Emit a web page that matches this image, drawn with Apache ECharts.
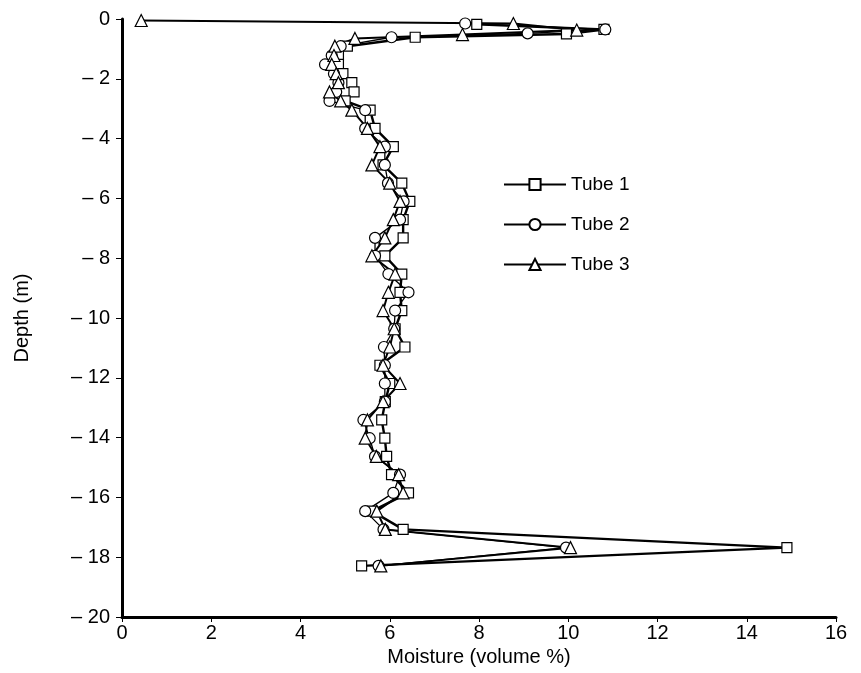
<!DOCTYPE html>
<html><head><meta charset="utf-8">
<script src="https://cdn.jsdelivr.net/npm/echarts@6/dist/echarts.min.js"></script>
<style>html,body{margin:0;padding:0;background:#fff}#c{width:861px;height:673px}</style>
</head><body><div id="c"></div>
<script>
// Depths (m) and moisture (volume %) for each tube
var tube1Depth = [-0.18,-0.35,-0.5,-0.61,-0.91,-1.22,-1.52,-1.83,-2.13,-2.44,-2.74,-3.05,-3.66,-4.27,-4.88,-5.49,-6.10,-6.71,-7.32,-7.92,-8.53,-9.14,-9.75,-10.36,-10.97,-11.58,-12.19,-12.80,-13.41,-14.02,-14.63,-15.24,-15.85,-16.46,-17.07,-17.68,-18.29];
var tube1Moist = [7.95,10.8,9.96,6.57,5.05,4.85,4.85,4.95,5.15,5.2,5.0,5.56,5.67,6.08,5.85,6.27,6.45,6.3,6.3,5.89,6.27,6.23,6.27,6.12,6.34,5.78,6.0,5.9,5.82,5.89,5.93,6.04,6.42,5.6,6.3,14.9,5.37];

var tube2Depth = [-0.15,-0.35,-0.48,-0.61,-0.91,-1.22,-1.52,-1.83,-2.13,-2.44,-2.74,-3.05,-3.66,-4.27,-4.88,-5.49,-6.10,-6.71,-7.32,-7.92,-8.53,-9.14,-9.75,-10.36,-10.97,-11.58,-12.19,-12.80,-13.41,-14.02,-14.63,-15.24,-15.85,-16.46,-17.07,-17.68,-18.29];
var tube2Moist = [7.69,10.83,9.09,6.04,4.9,4.7,4.55,4.75,4.85,4.8,4.65,5.45,5.45,5.89,5.89,5.96,6.31,6.23,5.67,5.67,5.97,6.42,6.12,6.1,5.87,5.89,5.89,5.89,5.41,5.55,5.67,6.23,6.08,5.45,5.86,9.95,5.75];

var tube3Depth = [-0.05,-0.15,-0.37,-0.52,-0.65,-0.91,-1.22,-1.52,-1.83,-2.13,-2.44,-2.74,-3.05,-3.66,-4.27,-4.88,-5.49,-6.10,-6.71,-7.32,-7.92,-8.53,-9.14,-9.75,-10.36,-10.97,-11.58,-12.19,-12.80,-13.41,-14.02,-14.63,-15.24,-15.85,-16.46,-17.07,-17.68,-18.29];
var tube3Moist = [0.43,8.77,10.19,7.63,5.22,4.77,4.75,4.7,4.8,4.85,4.65,4.9,5.15,5.5,5.78,5.6,6.0,6.23,6.08,5.89,5.6,6.12,5.97,5.85,6.1,6.0,5.85,6.23,5.85,5.5,5.45,5.7,6.2,6.3,5.71,5.9,10.05,5.8];

var seriesNames = ['Tube 1','Tube 2','Tube 3'];
var xTicks = [0,2,4,6,8,10,12,14,16];
var yTicks = [0,-2,-4,-6,-8,-10,-12,-14,-16,-18,-20];

function pairs(xs, ys){ return xs.map(function(x,i){ return [x, ys[i]]; }); }

var font = '"Liberation Sans", Arial, sans-serif';
var chart = echarts.init(document.getElementById('c'), null, {renderer:'canvas'});
function mk(name, data, symbol, size, width){
  return {
    name: name, type: 'line', data: data, symbol: symbol, symbolSize: size,
    showAllSymbol: true, z: 3,
    lineStyle: {color:'#000', width: width},
    itemStyle: {color:'#fff', borderColor:'#000', borderWidth: 1.2},
    emphasis: {disabled: true}, animation: false
  };
}
chart.setOption({
  animation: false,
  backgroundColor: '#fff',
  grid: {left: 122, right: 25, top: 19, bottom: 56, containLabel: false, outerBoundsMode: 'none'},
  legend: {
    orient: 'vertical', left: 498, top: 170, itemGap: 21,
    itemWidth: 62, itemHeight: 14,
    textStyle: {fontFamily: font, fontSize: 19, color: '#000'},
    data: seriesNames
  },
  xAxis: {
    type: 'value', min: xTicks[0], max: xTicks[xTicks.length-1], interval: 2,
    name: 'Moisture (volume %)', nameLocation: 'middle', nameGap: 30,
    nameTextStyle: {fontFamily: font, fontSize: 20, color: '#000'},
    axisLine: {onZero: false, lineStyle: {color: '#000', width: 3}},
    axisTick: {show: true, inside: false, length: 5, lineStyle: {color:'#000', width: 1}},
    axisLabel: {fontFamily: font, fontSize: 20, color: '#000', margin: 6},
    splitLine: {show: false}
  },
  yAxis: {
    type: 'value', min: yTicks[yTicks.length-1], max: yTicks[0], interval: 2,
    name: 'Depth (m)', nameLocation: 'middle', nameGap: 90,
    nameTextStyle: {fontFamily: font, fontSize: 20, color: '#000'},
    axisLine: {onZero: false, lineStyle: {color: '#000', width: 3}},
    axisTick: {show: true, inside: false, length: 6, lineStyle: {color:'#000', width: 1}},
    axisLabel: {fontFamily: font, fontSize: 20, color: '#000', margin: 12,
      formatter: function(v){ return v === 0 ? '0' : '\u2013 ' + Math.abs(v); }},
    splitLine: {show: false}
  },
  series: [
    mk(seriesNames[0], pairs(tube1Moist, tube1Depth), 'rect', 10, 2.4),
    mk(seriesNames[1], pairs(tube2Moist, tube2Depth), 'circle', 11, 1.3),
    mk(seriesNames[2], pairs(tube3Moist, tube3Depth), 'triangle', 12, 2)
  ]
});
</script></body></html>
